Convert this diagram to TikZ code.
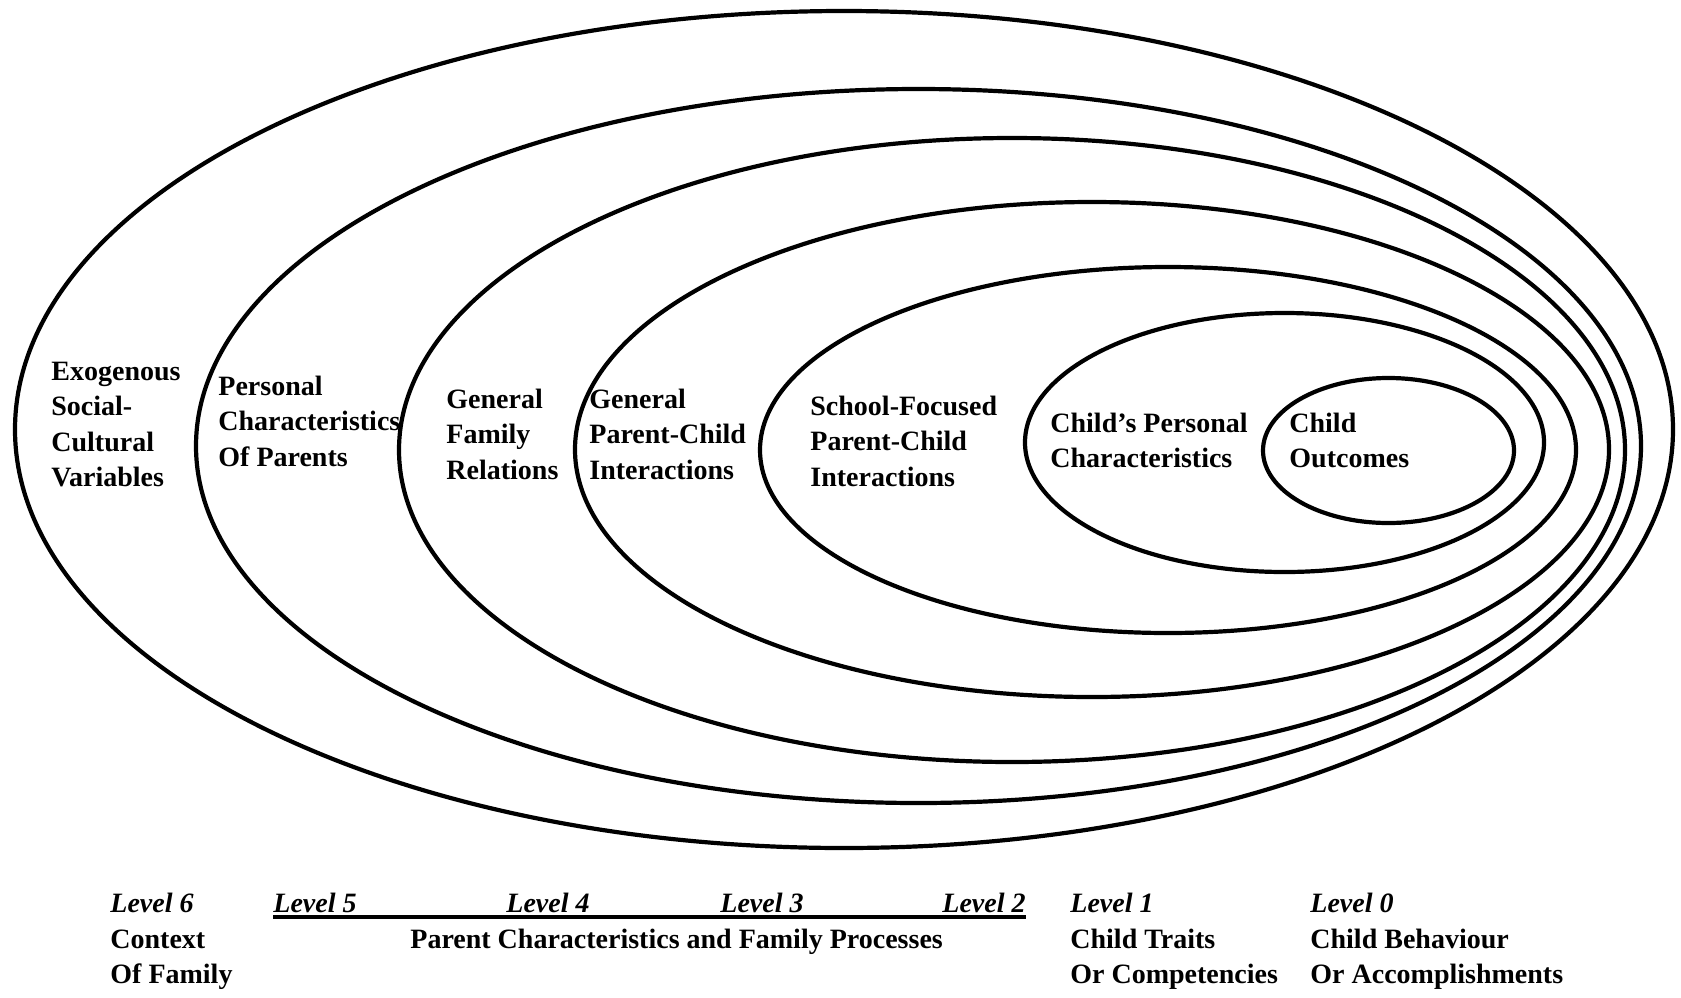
\documentclass[tikz,border=0pt]{standalone}
\usepackage{fontspec}
\setmainfont{Liberation Serif}
\begin{document}
\begin{tikzpicture}[x=0.5pt,y=-0.5pt,
  ring/.style={line width=2.1pt},
  lbl/.style={inner sep=0pt, anchor=base west, align=left, font=\fontsize{14}{17.75}\selectfont\bfseries},
  lvl/.style={inner sep=0pt, anchor=base west, font=\fontsize{14}{17.75}\selectfont\bfseries\itshape}]
\useasboundingbox (0,0) rectangle (1681,997);
% nested rings
\draw[ring] (844,429.5) ellipse [x radius=829, y radius=418.5];
\draw[ring] (918.5,446) ellipse [x radius=722.5, y radius=357];
\draw[ring] (1012,450) ellipse [x radius=613, y radius=312];
\draw[ring] (1092,449.5) ellipse [x radius=517, y radius=247.5];
\draw[ring] (1168,450) ellipse [x radius=408, y radius=183];
\draw[ring] (1284.5,442.5) ellipse [x radius=259.5, y radius=129.5];
\draw[ring] (1388.5,450.5) ellipse [x radius=125.5, y radius=72.5];
% ring labels (anchor = baseline of the last line)
\node[lbl] (exo) at (51,486.5) {Exogenous\\Social-\\Cultural\\Variables};
\node[lbl] (pers) at (218,466) {Personal\\Characteristics\\Of Parents};
\node[lbl] (gfr) at (446,479) {General\\Family\\Relations};
\node[lbl] (gpc) at (589,479) {General\\Parent-Child\\Interactions};
\node[lbl] (sfp) at (810,486) {School-Focused\\Parent-Child\\Interactions};
\node[lbl] (cpc) at (1050,467.5) {Child’s Personal\\Characteristics};
\node[lbl] (co) at (1289,467.5) {Child\\Outcomes};
% level legend
\node[lvl] (l6) at (110,912) {Level 6};
\node[lvl] (l5) at (273,912) {Level 5};
\node[lvl] (l4) at (506,912) {Level 4};
\node[lvl] (l3) at (720,912) {Level 3};
\node[lvl,anchor=base east] (l2) at (1026,912) {Level 2};
\node[lvl] (l1) at (1070,912) {Level 1};
\node[lvl] (l0) at (1310,912) {Level 0};
\node[lbl] (ctx) at (110,983.5) {Context\\Of Family};
\node[lbl] (pcf) at (410,948) {Parent Characteristics and Family Processes};
\node[lbl] (ctr) at (1070,983.5) {Child Traits\\Or Competencies};
\node[lbl] (cbh) at (1310,983.5) {Child Behaviour\\Or Accomplishments};
\draw[line width=1.7pt] ([yshift=-2.4pt]l5.base west) -- ([yshift=-2.4pt]l2.base east);
\end{tikzpicture}
\end{document}
